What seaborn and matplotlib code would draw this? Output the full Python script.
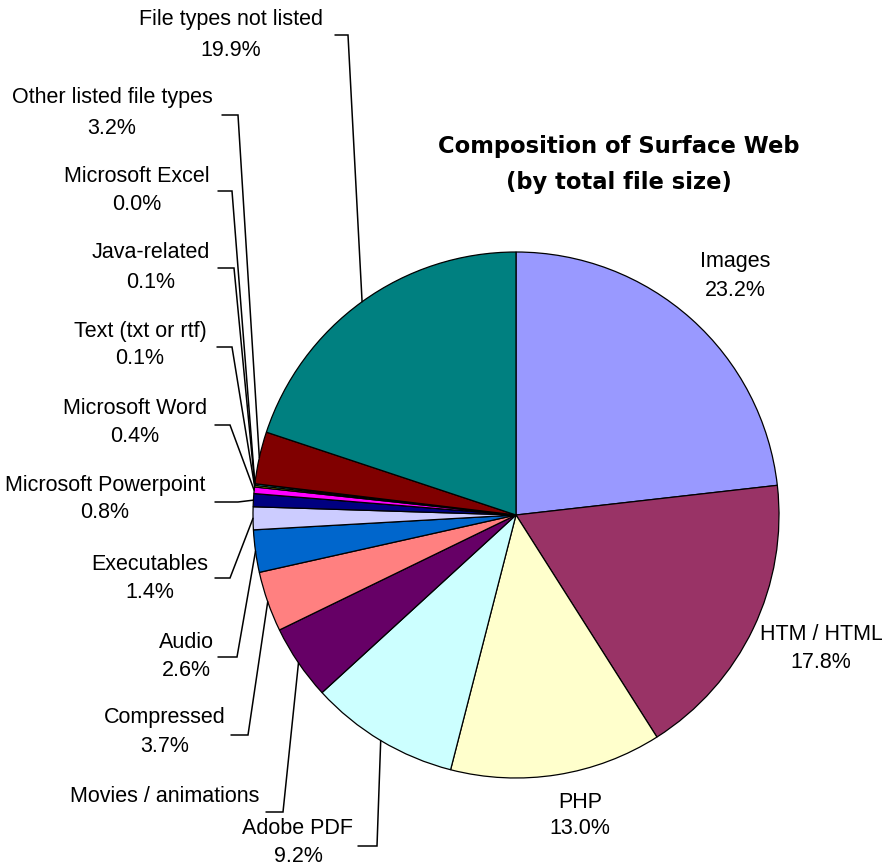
import matplotlib
matplotlib.use("Agg")
import matplotlib.pyplot as plt
import seaborn as sns
import numpy as np

# ---- data ----
categories = ["Images", "HTM / HTML", "PHP", "Adobe PDF", "Movies / animations",
              "Compressed", "Audio", "Executables", "Microsoft Powerpoint",
              "Microsoft Word", "Text (txt or rtf)", "Java-related",
              "Microsoft Excel", "Other listed file types", "File types not listed"]
shares = [23.2, 17.8, 13.0, 9.2, 4.6, 3.7, 2.6, 1.4, 0.8, 0.4, 0.1, 0.1, 0.0, 3.2, 19.9]
colors = ["#9999FF", "#993366", "#FFFFCC", "#CCFFFF", "#660066", "#FF8080",
          "#0066CC", "#CCCCFF", "#000080", "#FF00FF", "#FFFF00", "#00FFFF",
          "#800080", "#800000", "#008080"]
show_pct = [True, True, True, True, False, True, True, True, True, True,
            True, True, True, True, True]
title = "Composition of Surface Web\n(by total file size)"

# ---- layout (pixel positions of labels, y measured from top) ----
W, H = 882, 867
label_pos = [(735, 262, 290), (821, 635, 663), (580, 802, 828), (298, 829, 857),
             (165, 797, None), (165, 718, 747), (186, 642, 670), (150, 565, 593),
             (105, 485, 513), (135, 408, 437), (140, 332, 359), (151, 253, 283),
             (137, 177, 205), (112, 98, 128), (231, 20, 50)]
# leader: (y, x_start, x_elbow) or None
leaders = [None, None, None, (846, 358, 377), (812, 266, 283), (735, 231, 248),
           (657, 218, 237), (578, 215, 230), (502, 215, 238), (425, 215, 230),
           (347, 217, 232), (268, 218, 234), (191, 218, 232), (115, 222, 238),
           (35, 335, 348)]

sns.set_theme(style="white")
plt.rcParams["font.family"] = ["Liberation Sans", "DejaVu Sans"]
plt.rcParams["text.color"] = "black"

fig = plt.figure(figsize=(W / 100, H / 100), dpi=100)
ax = fig.add_axes([0, 0, 1, 1])
cx, cy, r = 516, H - 515, 263
wedges, _ = ax.pie(shares, colors=colors, startangle=90, counterclock=False,
                   center=(cx, cy), radius=r,
                   wedgeprops=dict(edgecolor="black", linewidth=0.9))
ax.set_xlim(0, W)
ax.set_ylim(0, H)
ax.set_aspect("equal")
ax.axis("off")

fs = 15.5
for i, (name, val) in enumerate(zip(categories, shares)):
    x, y1, y2 = label_pos[i]
    ax.text(x, H - y1, name, ha="center", va="center", fontsize=fs, color="black")
    if show_pct[i] and y2 is not None:
        ax.text(x, H - y2, f"{val:.1f}%", ha="center", va="center", fontsize=fs,
                color="black")
    if leaders[i] is not None:
        ly, xs, xe = leaders[i]
        w = wedges[i]
        mid = np.deg2rad((w.theta1 + w.theta2) / 2)
        px, pyy = cx + r * np.cos(mid), cy + r * np.sin(mid)
        ax.plot([xs, xe, px], [H - ly, H - ly, pyy], color="black", lw=1.1,
                solid_joinstyle="miter")

t1, t2 = title.split("\n")
ax.text(619, H - 147, t1, ha="center", va="center", fontsize=16.3,
        fontweight="bold", family="DejaVu Sans", color="black")
ax.text(619, H - 182, t2, ha="center", va="center", fontsize=16.3,
        fontweight="bold", family="DejaVu Sans", color="black")

fig.savefig("out.png", dpi=100, facecolor="white")
